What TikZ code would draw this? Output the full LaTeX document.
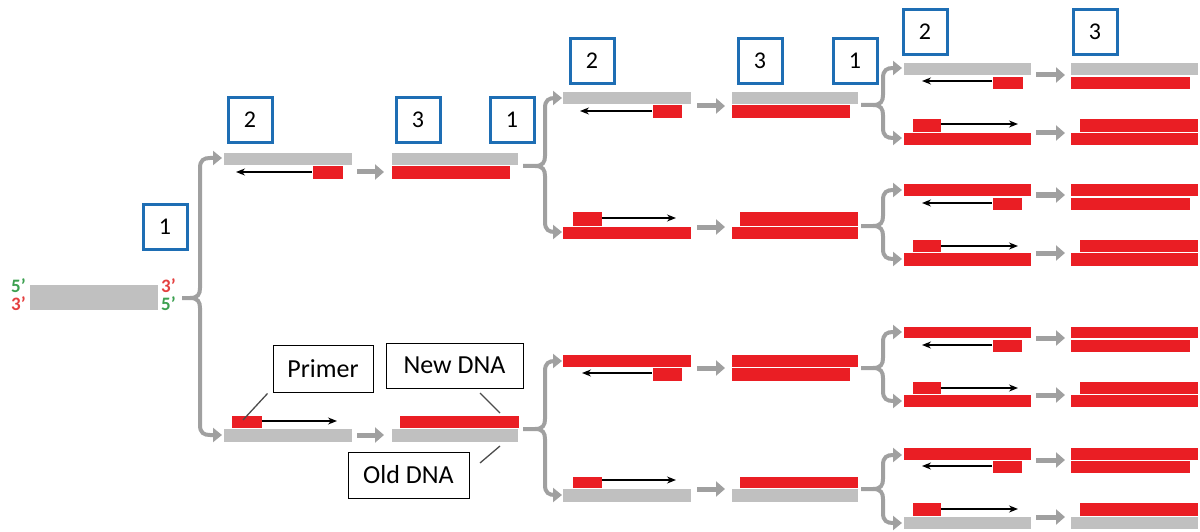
\documentclass[tikz,border=0pt]{standalone}
\usepackage{fontspec}
\setmainfont{Carlito}
\usetikzlibrary{arrows.meta}
\definecolor{dnagray}{RGB}{192,192,192}
\definecolor{dnared}{RGB}{234,30,36}
\definecolor{flowgray}{RGB}{160,160,160}
\definecolor{boxblue}{RGB}{30,110,180}
\definecolor{endgreen}{RGB}{60,160,80}
\definecolor{endred}{RGB}{228,64,64}
\tikzset{
  g/.style={fill=dnagray},
  r/.style={fill=dnared},
  ext/.style={draw=black, line width=1.3pt, -{Stealth[length=9pt,width=7pt]}},
  flow/.style={draw=flowgray, line width=5pt, -{Triangle[length=9pt,width=15pt]}},
  bracearm/.style={draw=flowgray, line width=4pt, -{Triangle[length=9pt,width=14pt]}},
  stepbox/.style={draw=boxblue, line width=3pt, minimum width=44pt, minimum height=45pt, inner sep=0pt, font=\fontsize{24}{28}\selectfont},
  callout/.style={draw=black, line width=1pt, fill=white, inner sep=0pt, font=\fontsize{26}{30}\selectfont},
  leader/.style={draw=black!70, line width=1.3pt},
  endlabel/.style={inner sep=0pt, anchor=base west, font=\fontsize{19}{20}\selectfont\bfseries}
}
\newcommand\strand[5]{\fill[#5] (#1,#2) rectangle (#3,#4);}
% brace: xstart, ycenter, xvertical, xtip, ytop, ybottom
\newcommand\splitto[6]{%
  \draw[bracearm] (#1,#2) -- ({#3-10},#2) .. controls ({#3-2},#2) and (#3,{#2-4}) .. (#3,{#2-10}) -- (#3,{#5+10}) .. controls (#3,{#5+2}) and ({#3+4},#5) .. ({#3+10},#5) -- (#4,#5);
  \draw[bracearm] ({#3-10},#2) .. controls ({#3-2},#2) and (#3,{#2+4}) .. (#3,{#2+10}) -- (#3,{#6-10}) .. controls (#3,{#6-2}) and ({#3+4},#6) .. ({#3+10},#6) -- (#4,#6);
}
\begin{document}
\begin{tikzpicture}[x=1pt,y=-1pt]
\useasboundingbox (0,0) rectangle (1200,532);

% ---- initial double strand
\strand{30}{285}{158}{297.5}{g}
\strand{30}{298}{158}{310}{g}
\node[endlabel, text=endgreen] (l5a) at (11,292) {5’};
\node[endlabel, text=endred] (l3a) at (11,310) {3’};
\node[endlabel, text=endred] (l3b) at (161,292) {3’};
\node[endlabel, text=endgreen] (l5b) at (161,310) {5’};

\node[stepbox] (s1a) at (165,227) {1};
\splitto{182}{298}{200}{222}{158}{435}

% ---- cycle 1 : column 2
\node[stepbox] (s2a) at (250,120) {2};
\strand{224}{153}{352}{165}{g}
\strand{313}{166}{343}{179}{r}
\draw[ext] (312,172) -- (236,172);
\strand{232}{416}{262}{428}{r}
\strand{224}{429}{352}{442}{g}
\draw[ext] (262,421) -- (337,421);

\draw[flow] (357,172) -- (384,172);
\draw[flow] (357,435) -- (384,435);

% ---- column 3
\node[stepbox] (s3a) at (418,120) {3};
\node[stepbox] (s1b) at (512,120) {1};
\strand{392}{153}{518}{165}{g}
\strand{392}{166}{510}{179}{r}
\strand{400}{416}{519}{428}{r}
\strand{392}{429}{518}{442}{g}

\node[callout, minimum width=100pt, minimum height=47pt] (primer) at (323,368.5) {Primer};
\node[callout, minimum width=137pt, minimum height=45pt] (newdna) at (454.5,365.5) {New DNA};
\node[callout, minimum width=121pt, minimum height=46pt] (olddna) at (408.5,475) {Old DNA};
\coordinate (pp) at (243,420);
\coordinate (np) at (500,413);
\coordinate (op) at (500,446);
\draw[leader] ([xshift=-5pt,yshift=-1pt]primer.south west) -- (pp);
\draw[leader] (480,393) -- (np);
\draw[leader] (480,463) -- (op);

\splitto{523}{166}{545}{562}{98}{232}
\splitto{523}{429}{545}{562}{361}{495}

% ---- cycle 2 : column 4
\node[stepbox] (s2b) at (592,61) {2};
\strand{563}{92}{691}{104}{g}
\strand{653}{105}{682}{118}{r}
\draw[ext] (652,111) -- (580,111);
\strand{573}{212}{602}{226}{r}
\strand{563}{227}{691}{239}{r}
\draw[ext] (602,218) -- (676,218);
\strand{563}{355}{691}{367}{r}
\strand{653}{368}{682}{381}{r}
\draw[ext] (652,373) -- (582,373);
\strand{573}{477}{602}{488}{r}
\strand{563}{489}{691}{502}{g}
\draw[ext] (602,480) -- (676,480);

\draw[flow] (697,106) -- (725,106);
\draw[flow] (697,227) -- (725,227);
\draw[flow] (697,368) -- (725,368);
\draw[flow] (697,489) -- (725,489);

% ---- column 5
\node[stepbox] (s3b) at (760,61) {3};
\node[stepbox] (s1c) at (855,61) {1};
\strand{732}{92}{858}{104}{g}
\strand{732}{105}{850}{118}{r}
\strand{740}{212}{858}{226}{r}
\strand{732}{227}{858}{239}{r}
\strand{732}{355}{858}{367}{r}
\strand{732}{368}{850}{381}{r}
\strand{740}{477}{858}{488}{r}
\strand{732}{489}{858}{502}{g}

\splitto{861}{105}{883}{902}{68}{138}
\splitto{861}{226}{883}{902}{190}{259}
\splitto{861}{368}{883}{902}{332}{401}
\splitto{861}{489}{883}{902}{455}{523}

% ---- cycle 3 : column 6
\node[stepbox] (s2c) at (925,32) {2};
\strand{904}{63}{1031}{75}{g}
\strand{993}{77}{1023}{89}{r}
\draw[ext] (992,81) -- (922,81);
\strand{913}{119}{941}{132}{r}
\strand{904}{133}{1031}{145}{r}
\draw[ext] (941,124) -- (1018,124);
\strand{904}{184}{1031}{196}{r}
\strand{993}{198}{1022}{210}{r}
\draw[ext] (992,203) -- (922,203);
\strand{913}{240}{941}{252}{r}
\strand{904}{253}{1031}{266}{r}
\draw[ext] (941,246) -- (1018,246);
\strand{904}{327}{1031}{338}{r}
\strand{993}{340}{1022}{352}{r}
\draw[ext] (992,345) -- (922,345);
\strand{913}{382}{941}{394}{r}
\strand{904}{395}{1031}{407}{r}
\draw[ext] (941,388) -- (1018,388);
\strand{904}{448}{1031}{460}{r}
\strand{993}{461}{1022}{473}{r}
\draw[ext] (992,466) -- (922,466);
\strand{913}{503}{941}{516}{r}
\strand{904}{517}{1031}{529}{g}
\draw[ext] (941,509) -- (1018,509);

\draw[flow] (1036,75) -- (1065,75);
\draw[flow] (1036,133) -- (1065,133);
\draw[flow] (1036,195) -- (1065,195);
\draw[flow] (1036,253) -- (1065,253);
\draw[flow] (1036,338) -- (1065,338);
\draw[flow] (1036,395) -- (1065,395);
\draw[flow] (1036,460) -- (1065,460);
\draw[flow] (1036,517) -- (1065,517);

% ---- column 7
\node[stepbox] (s3c) at (1095,32) {3};
\strand{1071}{63}{1198}{75}{g}
\strand{1071}{77}{1190}{89}{r}
\strand{1080}{119}{1198}{132}{r}
\strand{1071}{133}{1198}{145}{r}
\strand{1071}{184}{1198}{196}{r}
\strand{1071}{198}{1190}{210}{r}
\strand{1080}{240}{1198}{252}{r}
\strand{1071}{253}{1198}{266}{r}
\strand{1071}{327}{1198}{338}{r}
\strand{1071}{340}{1190}{352}{r}
\strand{1080}{382}{1198}{394}{r}
\strand{1071}{395}{1198}{407}{r}
\strand{1071}{448}{1198}{460}{r}
\strand{1071}{461}{1190}{473}{r}
\strand{1080}{503}{1198}{516}{r}
\strand{1071}{517}{1198}{529}{g}
\end{tikzpicture}
\end{document}
